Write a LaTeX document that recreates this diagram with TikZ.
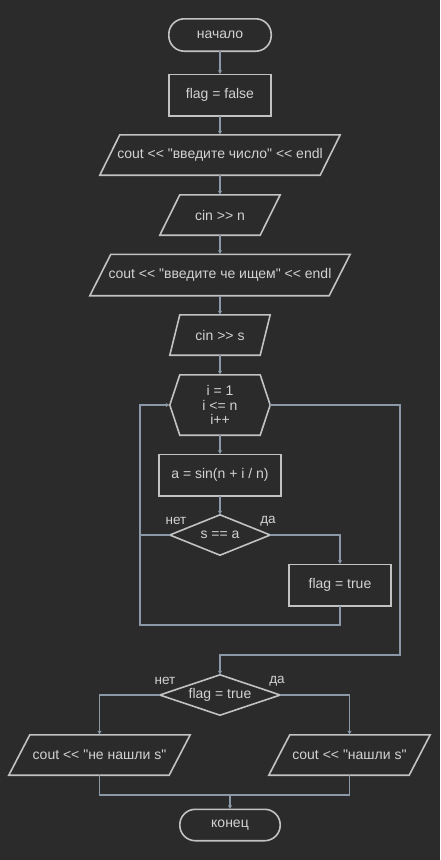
\documentclass[tikz,border=0pt]{standalone}
\usepackage{fontspec}
\setmainfont[Ligatures=TeXOff]{Liberation Sans}
\usetikzlibrary{arrows.meta}
\definecolor{bg}{HTML}{2B2B2B}
\definecolor{shp}{HTML}{C2C2C2}
\definecolor{cn}{HTML}{8A98A8}
\definecolor{txt}{HTML}{D2D2D2}
\tikzset{
  box/.style={draw=none, text=txt, inner sep=0pt, font=\fontsize{14}{14.5}\selectfont, align=center},
  outline/.style={draw=shp, line width=1.6pt, line join=miter},
  conn/.style={draw=cn, line width=1.4pt},
  arr/.style={conn, -{Latex[length=4pt,width=4.5pt]}},
  lbl/.style={text=txt, inner sep=0pt, font=\fontsize{13.5}{14}\selectfont}
}
\newcommand\ioshape[2]{\draw[outline] ([xshift=#2]#1.north west) -- (#1.north east) -- ([xshift=-#2]#1.south east) -- (#1.south west) -- cycle;}
\newcommand\rectshape[1]{\draw[outline] (#1.north west) rectangle (#1.south east);}
\newcommand\diashape[1]{\draw[outline] (#1.west) -- (#1.north) -- (#1.east) -- (#1.south) -- cycle;}
\newcommand\hexshape[2]{\draw[outline] ([xshift=#2]#1.north west) -- ([xshift=-#2]#1.north east) -- (#1.east) -- ([xshift=-#2]#1.south east) -- ([xshift=#2]#1.south west) -- (#1.west) -- cycle;}
\newcommand\termshape[1]{\draw[outline, rounded corners=15.5pt] (#1.north west) rectangle (#1.south east);}
\begin{document}
\begin{tikzpicture}[x=1pt,y=-1pt]
\fill[bg] (0,0) rectangle (440,860);
\useasboundingbox (0,0) rectangle (440,860);

\node[box, minimum width=102, minimum height=32] (start) at (220,35) {начало};
\node[box, minimum width=102, minimum height=41] (init) at (220,95) {flag = false};
\node[box, minimum width=240, minimum height=40] (in1) at (220,155) {cout << "введите число" << endl};
\node[box, minimum width=120, minimum height=40] (rd1) at (220,215) {cin >> n};
\node[box, minimum width=260, minimum height=41] (in2) at (220,275) {cout << "введите че ищем" << endl};
\node[box, minimum width=100, minimum height=40] (rd2) at (220,335) {cin >> s};
\node[box, minimum width=100, minimum height=60] (loop) at (220,405) {i = 1\\ i <= n\\ i++};
\node[box, minimum width=122, minimum height=41] (calc) at (220,475) {a = sin(n + i / n)};
\node[box, minimum width=100, minimum height=40] (cond) at (220,535) {s == a};
\node[box, minimum width=102, minimum height=41] (set) at (340,585) {flag = true};
\node[box, minimum width=120, minimum height=40] (check) at (220,695) {flag = true};
\node[box, minimum width=181, minimum height=40] (no) at (99.5,755) {cout << "не нашли s"};
\node[box, minimum width=161, minimum height=40] (yes) at (349.5,755) {cout << "нашли s"};
\node[box, minimum width=100, minimum height=31] (end) at (230,825) {конец};

\termshape{start}
\rectshape{init}
\ioshape{in1}{20}
\ioshape{rd1}{20}
\ioshape{in2}{21}
\ioshape{rd2}{10}
\hexshape{loop}{10}
\rectshape{calc}
\diashape{cond}
\rectshape{set}
\diashape{check}
\ioshape{no}{21}
\ioshape{yes}{21}
\termshape{end}

\node[lbl] (n1) at (176,521) {нет};
\node[lbl] (y1) at (268,521) {да};
\node[lbl] (n2) at (165,681) {нет};
\node[lbl] (y2) at (277,681) {да};

\coordinate (lt) at (140,405);
\coordinate (lb) at (140,625);
\coordinate (rt) at (400,405);
\coordinate (rb) at (400,655);
\coordinate (m) at (230,795);

\draw[arr] (start) -- (init);
\draw[arr] (init) -- (in1);
\draw[arr] (in1) -- (rd1);
\draw[arr] (rd1) -- (in2);
\draw[arr] (in2) -- (rd2);
\draw[arr] (rd2) -- (loop);
\draw[arr] (loop) -- (calc);
\draw[arr] (calc) -- (cond);
\draw[arr] (cond.east) -| (set.north);
\draw[arr] (set.south) |- (lb) -- (lt) -- (loop.west);
\draw[conn] (cond.west) -- (cond.west -| lb);
\draw[arr] (loop.east) -- (rt) -- (rb) -| (check.north);
\draw[arr] (check.west) -| (no.north);
\draw[arr] (check.east) -| (yes.north);
\draw[conn] (no.south) -- (no.south |- m) -- (yes.south |- m) -- (yes.south);
\draw[arr] (m) -- (end.north);
\end{tikzpicture}
\end{document}
